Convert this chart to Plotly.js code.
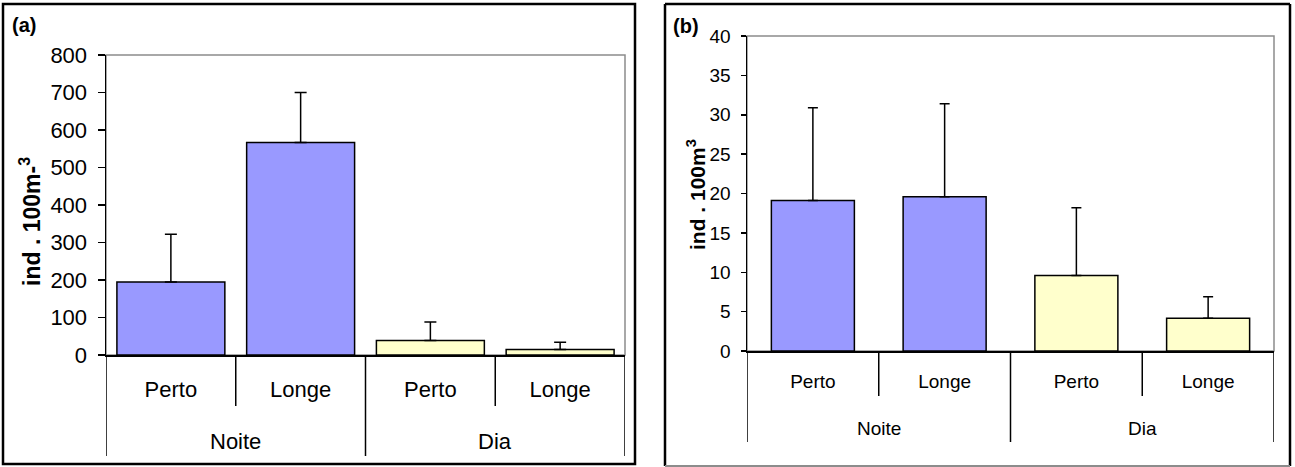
<!DOCTYPE html>
<html>
<head>
<meta charset="utf-8">
<script src="https://cdn.plot.ly/plotly-3.0.1.min.js"></script>
<style>
  html, body { margin: 0; padding: 0; background: #ffffff; }
  #chart { width: 1295px; height: 467px; }
</style>
</head>
<body>
<div id="chart"></div>
<script>
// ---- data ----
const groups = ['Noite', 'Noite', 'Dia', 'Dia'];
const subCategories = ['Perto', 'Longe', 'Perto', 'Longe'];
const groupNames = ['Noite', 'Dia'];
const meanA = [195, 567, 39, 15];
const errA = [127, 133, 49, 19];
const meanB = [19.1, 19.6, 9.6, 4.15];
const errB = [11.8, 11.8, 8.6, 2.75];
const yTicksA = [0, 100, 200, 300, 400, 500, 600, 700, 800];
const yTicksB = [0, 5, 10, 15, 20, 25, 30, 35, 40];
const titleA = 'ind . 100m-<sup>3</sup>';
const titleB = 'ind . 100m<sup>3</sup>';

// ---- helpers ----
const W = 1295, H = 467;
const px = v => v / W;
const py = v => 1 - v / H;
const FONT = '"Liberation Sans", Arial, sans-serif';
const BLUE = '#9999ff', YELLOW = '#ffffcc';
const keys = groups.map((g, i) => g + ' ' + subCategories[i]);
const colors = groups.map(g => g === 'Noite' ? BLUE : YELLOW);

function barTrace(values, errs, xa, ya, width, capw) {
  return {
    type: 'bar', x: keys, y: values, xaxis: xa, yaxis: ya,
    width: width,
    marker: { color: colors, line: { color: '#000', width: 1.5 } },
    error_y: { type: 'data', symmetric: false, array: errs, arrayminus: errs.map(() => 0),
               color: '#000', thickness: 1.5, width: capw },
    hoverinfo: 'skip', showlegend: false
  };
}

const data = [
  barTrace(meanA, errA, 'x', 'y', 0.832, 6),
  barTrace(meanB, errB, 'x2', 'y2', 0.63, 5)
];

function xAxis(domain, fs, standoff, anchor) {
  return {
    domain: domain, anchor: anchor, type: 'category', range: [-0.5, keys.length - 0.5],
    tickvals: keys, ticktext: subCategories, ticks: '', showgrid: false, zeroline: false,
    showline: true, linecolor: '#000', linewidth: 1.5,
    tickfont: { family: FONT, size: fs, color: '#000' }, ticklabelstandoff: standoff,
    fixedrange: true
  };
}
function yAxis(domain, range, ticks, fs, anchor, ticklen) {
  return {
    domain: domain, anchor: anchor, range: range, tickvals: ticks, ticks: 'outside', ticklen: ticklen,
    tickcolor: '#000', tickwidth: 1.5, showgrid: false, zeroline: false,
    showline: true, linecolor: '#000', linewidth: 1.5,
    tickfont: { family: FONT, size: fs, color: '#000' }, ticklabelstandoff: 6,
    fixedrange: true
  };
}

const shapes = [];
const annotations = [];

// plot-area gray border (top/right) for both panels
[['x', 'y'], ['x2', 'y2']].forEach(([xa, ya]) => {
  shapes.push({ type: 'rect', xref: xa + ' domain', yref: ya + ' domain', x0: 0, x1: 1, y0: 0, y1: 1,
                line: { color: '#8c8c8c', width: 1.5 }, layer: 'below' });
});

// category dividers
function dividers(xa, axisY, subBottom, groupBottom) {
  for (let i = 0; i <= keys.length; i++) {
    const isGroupEdge = (i === 0 || i === keys.length || groups[i] !== groups[i - 1]);
    shapes.push({ type: 'line', xref: xa, yref: 'paper', x0: i - 0.5, x1: i - 0.5,
                  y0: py(axisY), y1: py(isGroupEdge ? groupBottom : subBottom),
                  line: { color: '#000', width: 1.5 } });
  }
}
dividers('x', 355, 406, 456);
dividers('x2', 351, 396, 442);

// group labels
function groupLabels(xa, yc, fs) {
  groupNames.forEach(g => {
    const idx = groups.map((v, i) => v === g ? i : -1).filter(i => i >= 0);
    const mid = (idx[0] + idx[idx.length - 1]) / 2;
    annotations.push({ xref: xa, yref: 'paper', x: mid, y: py(yc), text: g, showarrow: false,
                       xanchor: 'center', yanchor: 'middle', font: { family: FONT, size: fs, color: '#000' } });
  });
}
groupLabels('x', 441, 22);
groupLabels('x2', 428, 19);

// y-axis titles (rotated)
annotations.push({ xref: 'paper', yref: 'paper', x: px(30), y: py(222), text: titleA, textangle: -90,
                   showarrow: false, xanchor: 'center', yanchor: 'middle',
                   font: { family: FONT, size: 23, color: '#000', weight: 'bold' } });
annotations.push({ xref: 'paper', yref: 'paper', x: px(696), y: py(195), text: titleB, textangle: -90,
                   showarrow: false, xanchor: 'center', yanchor: 'middle',
                   font: { family: FONT, size: 21, color: '#000', weight: 'bold' } });

// panel labels
annotations.push({ xref: 'paper', yref: 'paper', x: px(10), y: py(25), text: '(a)', showarrow: false,
                   xanchor: 'left', yanchor: 'middle', font: { family: FONT, size: 20, color: '#000', weight: 'bold' } });
annotations.push({ xref: 'paper', yref: 'paper', x: px(671), y: py(26), text: '(b)', showarrow: false,
                   xanchor: 'left', yanchor: 'middle', font: { family: FONT, size: 20, color: '#000', weight: 'bold' } });

// panel frames
shapes.push({ type: 'rect', xref: 'paper', yref: 'paper', x0: px(3), x1: px(635), y0: py(464), y1: py(4),
              line: { color: '#000', width: 2.5 } });
shapes.push({ type: 'line', xref: 'paper', yref: 'paper', x0: px(665), x1: px(665), y0: py(466), y1: py(4), line: { color: '#000', width: 2.5 } });
shapes.push({ type: 'line', xref: 'paper', yref: 'paper', x0: px(665), x1: px(1290), y0: py(4), y1: py(4), line: { color: '#000', width: 2.5 } });
shapes.push({ type: 'line', xref: 'paper', yref: 'paper', x0: px(1290), x1: px(1290), y0: py(466), y1: py(4), line: { color: '#000', width: 2.5 } });
shapes.push({ type: 'line', xref: 'paper', yref: 'paper', x0: px(665), x1: px(1290), y0: py(466), y1: py(466), line: { color: '#8c8c8c', width: 2 } });

const layout = {
  width: W, height: H, margin: { l: 0, r: 0, t: 0, b: 0 },
  paper_bgcolor: '#ffffff', plot_bgcolor: '#ffffff',
  font: { family: FONT, color: '#000' },
  xaxis: xAxis([px(106), px(625)], 22, 14, 'y'),
  yaxis: yAxis([py(355), py(55)], [0, 800], yTicksA, 22, 'x', 7),
  xaxis2: xAxis([px(747), px(1274)], 19, 13, 'y2'),
  yaxis2: yAxis([py(351), py(36)], [0, 40], yTicksB, 19, 'x2', 5),
  shapes: shapes,
  annotations: annotations,
  showlegend: false
};

Plotly.newPlot('chart', data, layout, { displayModeBar: false, staticPlot: true });
</script>
</body>
</html>
